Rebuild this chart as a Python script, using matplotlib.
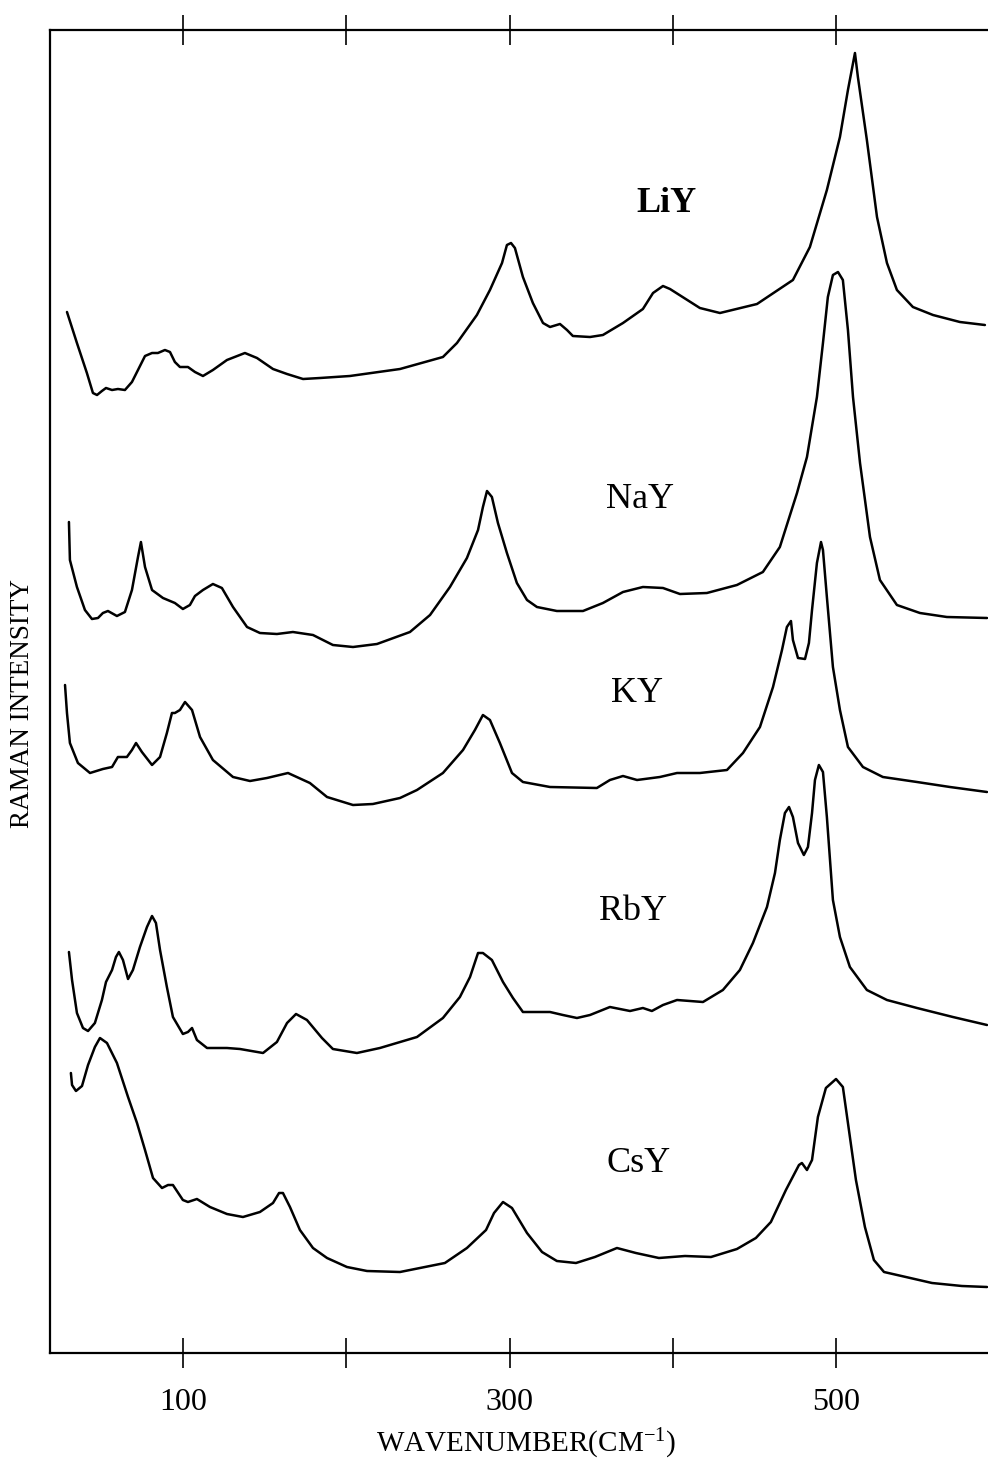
import matplotlib
matplotlib.use('Agg')
import matplotlib.pyplot as plt

plt.rcParams['font.family'] = ['Liberation Serif', 'DejaVu Serif']
plt.rcParams['mathtext.default'] = 'regular'

# Raman spectra of cation-exchanged Y zeolites (stacked, arbitrary offsets)
liy_wn = [28.8, 34.9, 41.0, 44.7, 47.2, 50.2, 52.7, 56.4, 60.0, 64.3, 68.6, 72.3, 76.6, 80.9,
          84.5, 88.8, 91.9, 94.9, 98.0, 102.9, 107.2, 112.1, 118.2, 126.8, 137.8, 145.2, 155.0,
          163.6, 173.4, 183.8, 202.1, 232.8, 259.1, 267.7, 279.9, 287.9, 295.3, 298.3, 300.8,
          303.2, 308.1, 314.2, 320.4, 324.7, 330.8, 335.1, 338.7, 349.2, 357.1, 369.4, 381.6,
          387.8, 393.9, 398.2, 416.5, 428.8, 451.5, 473.5, 483.9, 494.3, 502.3, 507.2, 511.5,
          513.3, 518.8, 525.0, 531.1, 537.2, 547.0, 559.3, 575.8, 591.1]
liy_int = [104.1, 101.0, 98.0, 96.0, 95.8, 96.2, 96.5, 96.3, 96.4, 96.3, 97.1, 98.3, 99.7, 100.0,
           100.0, 100.3, 100.1, 99.1, 98.6, 98.6, 98.1, 97.7, 98.3, 99.3, 100.0, 99.5, 98.4,
           97.9, 97.4, 97.5, 97.7, 98.4, 99.6, 101.0, 103.8, 106.3, 109.0, 110.8, 111.0,
           110.5, 107.6, 105.0, 103.0, 102.6, 102.9, 102.3, 101.7, 101.6, 101.8, 103.0, 104.4,
           106.0, 106.7, 106.4, 104.5, 104.0, 104.9, 107.3, 110.6, 116.3, 121.6, 126.3, 130.0,
           127.6, 121.3, 113.6, 109.0, 106.3, 104.6, 103.8, 103.1, 102.8]

nay_wn = [30.0, 30.6, 34.9, 39.8, 44.1, 47.8, 50.8, 53.9, 59.4, 64.3, 68.6, 72.3, 74.1, 76.6,
          80.9, 87.6, 94.9, 99.8, 104.1, 107.2, 112.1, 118.2, 123.7, 130.5, 139.1, 147.0,
          157.4, 167.2, 179.5, 191.7, 204.0, 218.7, 238.9, 251.2, 263.4, 273.8, 280.6, 283.6,
          286.1, 289.1, 292.8, 298.3, 304.4, 310.6, 316.7, 328.9, 344.9, 357.1, 369.4, 381.6,
          393.9, 404.3, 420.8, 439.2, 455.1, 465.5, 476.0, 482.1, 488.2, 491.9, 494.9, 498.0,
          501.1, 504.1, 507.2, 510.3, 514.6, 520.7, 526.8, 537.2, 551.3, 567.8, 592.4]
nay_int = [83.1, 79.3, 76.6, 74.3, 73.4, 73.5, 74.0, 74.2, 73.7, 74.1, 76.3, 79.6, 81.1, 78.6,
           76.3, 75.5, 75.0, 74.4, 74.8, 75.7, 76.3, 76.9, 76.5, 74.6, 72.6, 72.0,
           71.9, 72.1, 71.8, 70.8, 70.6, 70.9, 72.1, 73.8, 76.6, 79.5, 82.3, 84.6,
           86.2, 85.6, 83.0, 80.0, 77.0, 75.3, 74.6, 74.2, 74.2, 75.0, 76.1, 76.6,
           76.5, 75.9, 76.0, 76.8, 78.1, 80.6, 86.0, 89.6, 95.6, 101.0, 105.6, 107.8,
           108.1, 107.3, 102.3, 95.6, 89.0, 81.6, 77.3, 74.8, 74.0, 73.6, 73.5]

ky_wn = [27.6, 28.8, 30.6, 35.5, 42.9, 50.8, 56.4, 60.0, 65.5, 68.6, 71.1, 74.7, 80.9, 85.8,
         90.0, 93.1, 94.9, 98.0, 101.1, 105.4, 110.3, 118.2, 130.5, 140.9, 151.3, 164.2,
         177.6, 188.1, 204.0, 216.2, 232.8, 243.2, 259.1, 271.4, 278.7, 283.6, 287.9, 294.0,
         301.4, 308.1, 324.7, 353.4, 361.4, 369.4, 378.0, 392.0, 402.5, 416.5, 433.1, 442.9,
         453.3, 461.3, 466.8, 469.8, 472.3, 473.5, 476.6, 480.9, 483.3, 485.2, 488.2, 490.7,
         491.9, 494.3, 498.0, 502.3, 507.2, 516.4, 528.6, 549.5, 569.7, 592.4]
ky_int = [66.8, 64.0, 61.0, 59.0, 58.0, 58.4, 58.6, 59.6, 59.6, 60.3, 61.0, 60.1, 58.8, 59.6,
          62.0, 64.0, 64.0, 64.3, 65.1, 64.3, 61.6, 59.3, 57.6, 57.2, 57.5, 58.0,
          57.0, 55.6, 54.8, 54.9, 55.5, 56.3, 58.0, 60.3, 62.3, 63.8, 63.3, 61.0,
          58.0, 57.1, 56.6, 56.5, 57.3, 57.7, 57.3, 57.6, 58.0, 58.0, 58.3, 60.0,
          62.6, 66.6, 70.3, 72.6, 73.2, 71.3, 69.5, 69.4, 71.0, 74.3, 79.0, 81.1,
          80.3, 75.6, 68.6, 64.3, 60.6, 58.6, 57.6, 57.1, 56.6, 56.1]

rby_wn = [30.0, 31.9, 34.9, 38.6, 41.7, 45.9, 50.2, 52.7, 56.4, 58.8, 60.6, 63.1, 66.2, 69.2,
          73.5, 77.8, 80.9, 83.3, 85.8, 90.0, 93.7, 99.8, 102.9, 105.4, 108.4, 114.6, 126.8,
          134.8, 148.9, 157.4, 163.6, 169.1, 175.8, 185.0, 191.7, 206.4, 220.5, 243.2, 259.1,
          269.5, 275.7, 280.6, 283.6, 289.1, 295.9, 302.0, 308.1, 324.7, 332.6, 341.2, 349.2,
          361.4, 373.7, 381.6, 387.1, 393.9, 402.5, 418.4, 430.6, 441.0, 449.0, 457.6, 462.5,
          465.5, 468.6, 471.1, 473.5, 476.6, 480.2, 482.7, 485.2, 487.0, 489.4, 491.9, 494.3,
          498.0, 502.3, 508.4, 518.8, 531.1, 549.5, 571.5, 592.4]
rby_int = [40.1, 37.3, 34.0, 32.5, 32.2, 33.0, 35.3, 37.1, 38.3, 39.6, 40.1, 39.3, 37.4, 38.3,
           40.6, 42.6, 43.7, 43.0, 40.3, 36.6, 33.6, 31.9, 32.1, 32.5, 31.3, 30.5, 30.5,
           30.4, 30.0, 31.1, 33.0, 33.9, 33.3, 31.5, 30.4, 30.0, 30.5, 31.6, 33.5,
           35.6, 37.6, 40.0, 40.0, 39.3, 37.1, 35.5, 34.1, 34.1, 33.8, 33.5, 33.8,
           34.6, 34.2, 34.5, 34.2, 34.8, 35.3, 35.1, 36.3, 38.3, 41.0, 44.6, 48.0,
           51.3, 54.0, 54.6, 53.6, 51.0, 49.8, 50.6, 54.0, 57.3, 58.8, 58.1, 53.6,
           45.3, 41.6, 38.6, 36.3, 35.3, 34.5, 33.6, 32.8]

csy_wn = [31.2, 31.9, 34.3, 38.0, 41.7, 45.9, 49.0, 53.3, 59.4, 66.2, 71.7, 76.6, 81.5, 87.0,
          90.7, 93.7, 99.8, 102.9, 108.4, 116.4, 126.8, 136.6, 147.0, 155.0, 158.7, 161.1,
          165.4, 171.5, 179.5, 188.1, 200.3, 212.6, 232.8, 260.3, 273.8, 285.5, 290.4, 295.9,
          301.4, 310.6, 319.8, 328.9, 340.6, 352.2, 365.7, 377.3, 391.4, 407.4, 423.3, 439.2,
          450.8, 460.0, 469.2, 477.2, 479.0, 482.1, 485.2, 488.8, 493.7, 499.9, 504.1, 507.2,
          512.1, 517.6, 523.1, 529.3, 542.7, 558.7, 577.0, 592.4]
csy_int = [28.0, 26.8, 26.2, 26.7, 28.8, 30.6, 31.5, 31.0, 29.0, 25.6, 23.0, 20.3, 17.5, 16.5,
           16.8, 16.8, 15.3, 15.1, 15.4, 14.6, 13.9, 13.6, 14.1, 15.0, 16.0, 16.0,
           14.6, 12.3, 10.5, 9.5, 8.6, 8.2, 8.1, 9.0, 10.5, 12.3, 14.0, 15.1,
           14.5, 12.0, 10.1, 9.2, 9.0, 9.6, 10.5, 10.0, 9.5, 9.7, 9.6, 10.4,
           11.5, 13.1, 16.3, 18.8, 19.0, 18.3, 19.3, 23.6, 26.5, 27.4, 26.6, 23.0,
           17.3, 12.6, 9.3, 8.1, 7.6, 7.0, 6.7, 6.6]

samples = ['LiY', 'NaY', 'KY', 'RbY', 'CsY']
spectra = [(liy_wn, liy_int), (nay_wn, nay_int), (ky_wn, ky_int),
           (rby_wn, rby_int), (csy_wn, csy_int)]
label_pos = [(396, 114.9), (380, 85.3), (378, 66.0), (375.5, 44.1), (379, 19.0)]

major_ticks = [100, 200, 300, 400, 500]
tick_labels = ['100', '', '300', '', '500']


def main():
    fig = plt.figure(figsize=(9.88, 14.81), dpi=100)
    ax = fig.add_axes([50 / 988, 128 / 1481, 938 / 988, 1323 / 1481])

    for name, (wn, inten), (lx, ly) in zip(samples, spectra, label_pos):
        ax.plot(wn, inten, color='black', lw=1.8, solid_joinstyle='round',
                solid_capstyle='round')
        ax.text(lx, ly, name, ha='center', va='center', fontsize=26,
                fontweight='bold' if name == 'LiY' else 'normal')

    ax.set_xlim(18.4, 593)
    ax.set_ylim(0, 132.3)

    ax.spines['right'].set_visible(False)
    for s in ['left', 'top', 'bottom']:
        ax.spines[s].set_linewidth(1.6)

    ax.set_xticks(major_ticks)
    ax.set_xticklabels(tick_labels)
    ax.tick_params(axis='x', which='both', direction='inout', length=21, width=1.2,
                   top=True, labeltop=False, labelsize=23, pad=15)
    ax.set_yticks([])

    fig.text(526 / 988, 1 - 1444 / 1481, 'WAVENUMBER(CM$^{-1}$)', ha='center', va='center',
             fontsize=21)
    fig.text(23 / 988, 1 - 703 / 1481, 'RAMAN INTENSITY', ha='center', va='center',
             rotation=90, fontsize=19.5)

    fig.savefig('out.png', dpi=100)


if __name__ == '__main__':
    main()
